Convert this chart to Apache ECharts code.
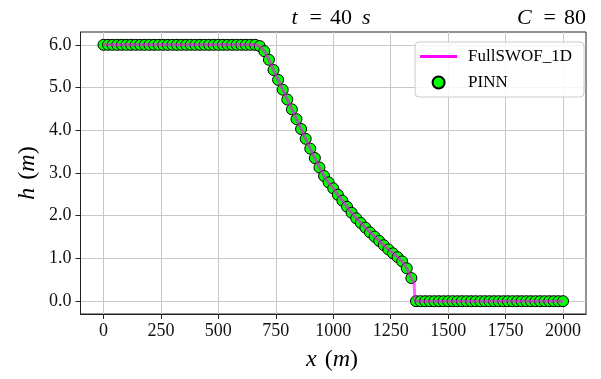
<!DOCTYPE html>
<html>
<head>
<meta charset="utf-8">
<script src="https://cdn.jsdelivr.net/npm/echarts@6/dist/echarts.min.js"></script>
<style>
  html, body { margin: 0; padding: 0; background: #fff; }
  #chart { width: 601px; height: 379px; }
</style>
</head>
<body>
<div id="chart"></div>
<script>
// positions along the channel (m), PINN sample points
const xVals = [
  0, 20, 40, 60, 80, 100, 120, 140, 160, 180, 200, 220, 240, 260, 280, 300, 320, 340, 360, 380,
  400, 420, 440, 460, 480, 500, 520, 540, 560, 580, 600, 620, 640, 660, 680, 700, 720, 740, 760, 780,
  800, 820, 840, 860, 880, 900, 920, 940, 960, 980, 1000, 1020, 1040, 1060, 1080, 1100, 1120, 1140, 1160, 1180,
  1200, 1220, 1240, 1260, 1280, 1300, 1320, 1340, 1360, 1380, 1400, 1420, 1440, 1460, 1480, 1500, 1520, 1540, 1560, 1580,
  1600, 1620, 1640, 1660, 1680, 1700, 1720, 1740, 1760, 1780, 1800, 1820, 1840, 1860, 1880, 1900, 1920, 1940, 1960, 1980,
  2000
];

// PINN water depth (m)
const pinnH = [
  6.0, 6.0, 6.0, 6.0, 6.0, 6.0, 6.0, 6.0, 6.0, 6.0, 6.0, 6.0, 6.0, 6.0, 6.0, 6.0, 6.0, 6.0, 6.0, 6.0,
  6.0, 6.0, 6.0, 6.0, 6.0, 6.0, 6.0, 6.0, 6.0, 6.0, 6.0, 6.0, 6.0, 6.0, 5.97, 5.85, 5.65, 5.41, 5.18, 4.95,
  4.72, 4.49, 4.26, 4.03, 3.80, 3.57, 3.35, 3.13, 2.93, 2.78, 2.64, 2.49, 2.35, 2.21, 2.07, 1.94, 1.83, 1.72, 1.61, 1.51,
  1.41, 1.31, 1.21, 1.12, 1.03, 0.93, 0.77, 0.54, 0, 0, 0, 0, 0, 0, 0, 0, 0, 0, 0, 0,
  0, 0, 0, 0, 0, 0, 0, 0, 0, 0, 0, 0, 0, 0, 0, 0, 0, 0, 0, 0,
  0
];

// FullSWOF_1D reference solution
const sweX = [0, 660, 680, 700, 720, 740, 760, 780, 800, 820, 840, 860, 880, 900, 920, 940, 960, 980, 1000,
  1020, 1040, 1060, 1080, 1100, 1120, 1140, 1160, 1180, 1200, 1220, 1240, 1260, 1280, 1300, 1320, 1340,
  1352, 1355, 2000];
const sweH = [6.0, 6.0, 5.97, 5.85, 5.65, 5.41, 5.18, 4.95, 4.72, 4.49, 4.26, 4.03, 3.80, 3.57, 3.35, 3.13, 2.93, 2.78, 2.64,
  2.49, 2.35, 2.21, 2.07, 1.94, 1.83, 1.72, 1.61, 1.51, 1.41, 1.31, 1.21, 1.12, 1.03, 0.93, 0.77, 0.54,
  0.42, 0, 0];

const xTicks = [0, 250, 500, 750, 1000, 1250, 1500, 1750, 2000];
const yTicks = [0, 1, 2, 3, 4, 5, 6];

const serif = "'Liberation Serif', 'DejaVu Serif', serif";
const chart = echarts.init(document.getElementById("chart"), null, { renderer: "canvas" });

// math-like text pieces: italic symbols, upright numbers
const titleRich = {
  i: { fontFamily: serif, fontStyle: "italic", fontSize: 22, fill: "#000" },
  n: { fontFamily: serif, fontSize: 22, fill: "#000" },
  e: { fontFamily: serif, fontSize: 22, fill: "#000", padding: [0, 8, 0, 12] },
  s: { fontFamily: serif, fontStyle: "italic", fontSize: 22, fill: "#000", padding: [0, 0, 0, 10] },
};
const axisRich = {
  i: { fontFamily: serif, fontStyle: "italic", fontSize: 24, fill: "#000" },
  n: { fontFamily: serif, fontSize: 24, fill: "#000" },
  p: { fontFamily: serif, fontSize: 24, fill: "#000", padding: [0, 0, 0, 8] },
};

const option = {
  animation: false,
  backgroundColor: "#fff",
  grid: {
    left: 80.5,
    right: 15,
    top: 32,
    bottom: 65,
    show: true,
    borderColor: "#222",
    borderWidth: 1,
    backgroundColor: "transparent",
  },
  legend: {
    orient: "vertical",
    right: 17,
    top: 42,
    padding: [6, 12, 6, 5],
    itemGap: 9,
    itemWidth: 37,
    itemHeight: 12,
    symbolKeepAspect: true,
    backgroundColor: "rgba(255,255,255,0.85)",
    borderColor: "#cccccc",
    borderWidth: 1,
    borderRadius: 4,
    textStyle: { fontFamily: serif, fontSize: 17, color: "#000", padding: [0, 0, 0, 6] },
    data: [
      {
        name: "FullSWOF_1D",
        icon: "path://M0,0L37,0L37,3L0,3Z",
        itemStyle: { color: "#ff00ff", opacity: 1 },
        lineStyle: { color: "#ff00ff", opacity: 1 },
      },
      { name: "PINN" },
    ],
  },
  xAxis: {
    type: "value",
    min: -100,
    max: 2100,
    axisLine: { onZero: false, lineStyle: { color: "#222", width: 1 } },
    axisTick: { show: true, length: 5, customValues: xTicks, lineStyle: { color: "#222" } },
    axisLabel: {
      customValues: xTicks,
      margin: 8,
      fontFamily: serif,
      fontSize: 18,
      color: "#111",
      formatter: (v) => String(v),
    },
    splitLine: { show: true, lineStyle: { color: "#c8c8c8", width: 1 } },
  },
  yAxis: {
    type: "value",
    min: -0.3,
    max: 6.3,
    axisLine: { show: true, onZero: false, lineStyle: { color: "#222", width: 1 } },
    axisTick: { show: true, length: 5, customValues: yTicks, lineStyle: { color: "#222" } },
    axisLabel: {
      customValues: yTicks,
      margin: 9,
      fontFamily: serif,
      fontSize: 18,
      color: "#111",
      formatter: (v) => v.toFixed(1),
    },
    splitLine: { show: true, lineStyle: { color: "#c8c8c8", width: 1 } },
  },
  series: [
    {
      name: "PINN",
      type: "scatter",
      z: 2,
      symbol: "circle",
      symbolSize: 11,
      itemStyle: { color: "#00ff00", borderColor: "#000", borderWidth: 1, opacity: 1 },
      data: xVals.map((x, i) => [x, pinnH[i]]),
    },
    {
      name: "FullSWOF_1D",
      type: "line",
      z: 3,
      symbol: "none",
      showSymbol: false,
      lineStyle: { color: "#ff00ff", width: 3, opacity: 0.62 },
      itemStyle: { color: "#ff00ff" },
      data: sweX.map((x, i) => [x, sweH[i]]),
    },
  ],
  graphic: [
    {
      type: "text",
      x: 331,
      y: 18,
      style: {
        text: "{i|t}{e|=}{n|40}{s|s}",
        rich: titleRich,
        align: "center",
        verticalAlign: "middle",
      },
    },
    {
      type: "text",
      x: 586,
      y: 18,
      style: {
        text: "{i|C}{e|=}{n|80}",
        rich: titleRich,
        align: "right",
        verticalAlign: "middle",
      },
    },
    {
      type: "text",
      x: 332,
      y: 360,
      style: {
        text: "{i|x}{p|(}{i|m}{n|)}",
        rich: axisRich,
        align: "center",
        verticalAlign: "middle",
      },
    },
    {
      type: "text",
      x: 28,
      y: 173,
      rotation: Math.PI / 2,
      style: {
        text: "{i|h}{p|(}{i|m}{n|)}",
        rich: axisRich,
        align: "center",
        verticalAlign: "middle",
      },
    },
  ],
};

chart.setOption(option);

window.addEventListener("resize", () => chart.resize());
</script>
</body>
</html>
